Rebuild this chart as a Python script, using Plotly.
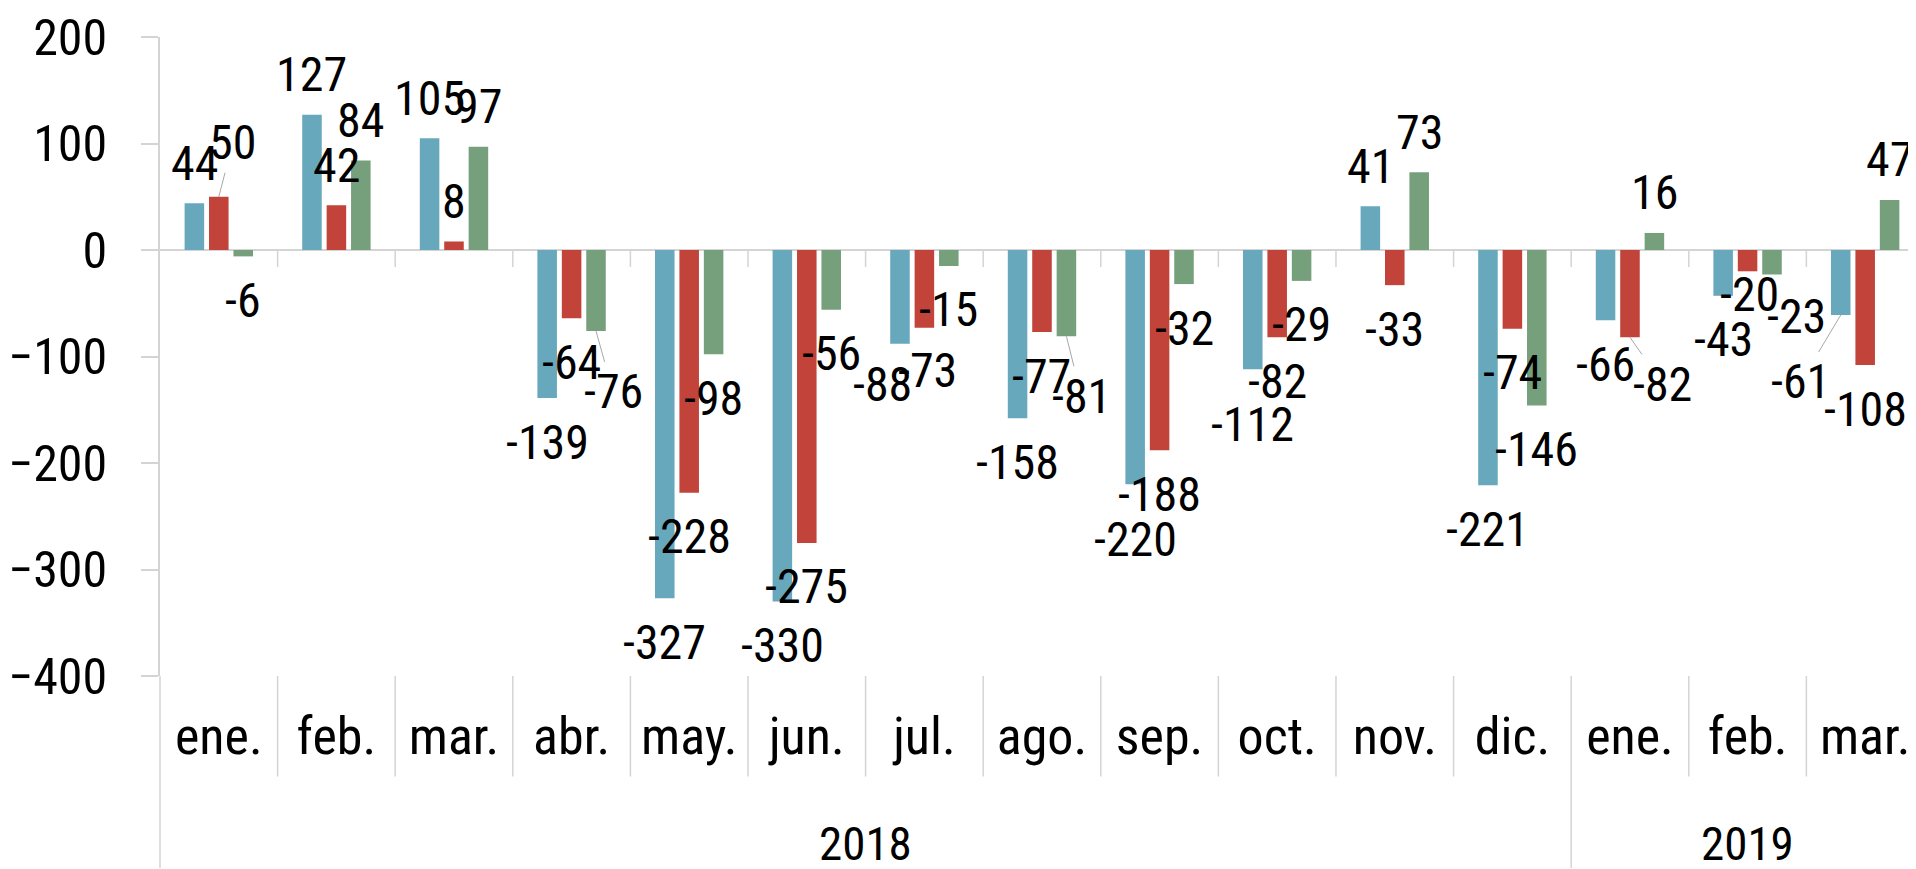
import plotly.graph_objects as go

# ---------------- data ----------------
months = ["ene.", "feb.", "mar.", "abr.", "may.", "jun.", "jul.", "ago.",
          "sep.", "oct.", "nov.", "dic.", "ene.", "feb.", "mar."]
year_labels = ["2018", "2019"]
year_counts = [12, 3]
serie_azul = [44, 127, 105, -139, -327, -330, -88, -158, -220, -112, 41, -221, -66, -43, -61]
serie_roja = [50, 42, 8, -64, -228, -275, -73, -77, -188, -82, -33, -74, -82, -20, -108]
serie_verde = [-6, 84, 97, -76, -98, -56, -15, -81, -32, -29, 73, -146, 16, -23, 47]
y_ticks = [-400, -300, -200, -100, 0, 100, 200]

# ---------------- style ----------------
colors = ["#67a8bd", "#c1433a", "#76a07c"]
FONT = "Liberation Sans Narrow, Roboto Condensed, Arial Narrow, Liberation Sans, sans-serif"
# the page body has an 8px margin; figure is sized so it ends at the window edge
W, H = 1908, 861
ML, MR, MT, MB = 146, 0, 26, 193
CAT_PX = 118.0
BARGAP = 0.377
BARGROUPGAP = 0.2
GRAY = "#d4d4d4"
LABEL_SIZE = 48

plot_w = W - ML - MR
plot_h = H - MT - MB
x_hi = -0.5 + plot_w / CAT_PX

# manual label placement tweaks (series index, category index) -> px offsets
label_adjust = {
    (1, 0): dict(dx=14, dy=-54, leader=True),
    (2, 3): dict(dx=17, dy=61, leader=True),
    (0, 6): dict(dx=-17, dy=41),
    (1, 6): dict(dx=3, dy=43),
    (2, 7): dict(dx=15, dy=60, leader=True),
    (0, 8): dict(dy=55),
    (0, 9): dict(dy=55),
    (1, 12): dict(dx=33, dy=47, leader=True),
    (1, 13): dict(dx=2, dy=23),
    (2, 13): dict(dx=24, dy=42),
    (0, 14): dict(dx=-40, dy=67, leader=True),
}

x = list(range(len(months)))
series = [serie_azul, serie_roja, serie_verde]

fig = go.Figure()
for s, vals in enumerate(series):
    fig.add_trace(go.Bar(x=x, y=vals, marker=dict(color=colors[s], line=dict(width=0)),
                         showlegend=False, hoverinfo="y"))

slot = (1 - BARGAP) / 3
annotations = []
for s, vals in enumerate(series):
    for i, v in enumerate(vals):
        adj = label_adjust.get((s, i), {})
        dx = adj.get("dx", 0)
        dy = adj.get("dy", -40 if v > 0 else 44)
        xpos = i + (s - 1) * slot
        if adj.get("leader"):
            annotations.append(dict(x=xpos, y=v, xref="x", yref="y", text=str(v),
                                    showarrow=True, ax=dx, ay=dy, axref="pixel", ayref="pixel",
                                    arrowhead=0, arrowwidth=1, arrowcolor="#a8a8a8", standoff=0,
                                    font=dict(family=FONT, size=LABEL_SIZE, color="black")))
        else:
            annotations.append(dict(x=xpos, y=v, xref="x", yref="y", text=str(v),
                                    showarrow=False, xshift=dx, yshift=-dy,
                                    xanchor="center", yanchor="middle",
                                    font=dict(family=FONT, size=LABEL_SIZE, color="black")))

# year labels
start = 0
for lab, n in zip(year_labels, year_counts):
    center = start + (n - 1) / 2
    annotations.append(dict(x=center, y=-168 / plot_h, xref="x", yref="paper", text=lab,
                            showarrow=False, xanchor="center", yanchor="middle",
                            font=dict(family=FONT, size=47, color="black")))
    start += n

shapes = []
# tick marks along the zero line at category boundaries
for b in range(len(months) - 1):
    shapes.append(dict(type="line", xref="x", yref="y", x0=b + 0.5, x1=b + 0.5,
                       ysizemode="pixel", yanchor=0, y0=0, y1=-17,
                       line=dict(color=GRAY, width=1.5)))
# dividers in the label area
year_bounds = []
acc = 0
for n in year_counts[:-1]:
    acc += n
    year_bounds.append(acc - 0.5)
for b in range(len(months) - 1):
    bx = b + 0.5
    y1 = -MB / plot_h if bx in year_bounds else -101 / plot_h
    shapes.append(dict(type="line", xref="x", yref="paper", x0=bx, x1=bx, y0=0, y1=y1,
                       line=dict(color=GRAY, width=1.5)))
# y axis line continued to the bottom
shapes.append(dict(type="line", xref="paper", yref="paper", x0=0, x1=0, y0=0, y1=-MB / plot_h,
                   line=dict(color=GRAY, width=1.5)))

fig.update_layout(
    width=W, height=H,
    margin=dict(l=ML, r=MR, t=MT, b=MB, pad=0),
    paper_bgcolor="white", plot_bgcolor="white",
    barmode="group", bargap=BARGAP, bargroupgap=BARGROUPGAP,
    annotations=annotations, shapes=shapes,
    xaxis=dict(range=[-0.5, x_hi], tickmode="array", tickvals=x, ticktext=months,
               ticks="", showline=False, showgrid=False, zeroline=False,
               tickfont=dict(family=FONT, size=52, color="black"),
               ticklabelstandoff=25, ticklabeloverflow="allow"),
    yaxis=dict(range=[-400, 200], tickmode="array", tickvals=y_ticks,
               ticks="outside", ticklen=17, tickcolor=GRAY, tickwidth=1.5,
               showline=True, linecolor=GRAY, linewidth=1.5,
               showgrid=False, zeroline=True, zerolinecolor=GRAY, zerolinewidth=2,
               tickfont=dict(family=FONT, size=50, color="black"),
               ticklabelstandoff=24, ticklabeloverflow="allow"),
)

fig.write_html("out.html")
